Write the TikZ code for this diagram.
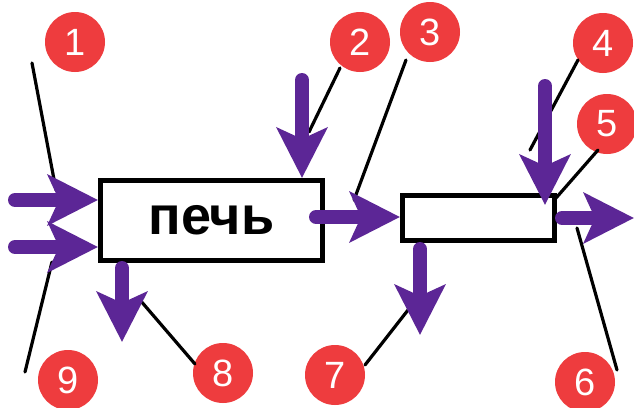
\documentclass[tikz,border=0pt]{standalone}
\usepackage{fontspec}
\setmainfont{Liberation Sans}
\usetikzlibrary{arrows.meta}
\definecolor{pur}{RGB}{92,38,150}
\definecolor{badgered}{RGB}{238,60,62}
\begin{document}
\begin{tikzpicture}[x=1pt,y=-1pt,
  badge/.style={circle, fill=badgered, minimum size=60pt, inner sep=0pt, text=white,
    font=\fontsize{38}{38}\selectfont},
  box/.style={draw=black, line width=5pt, fill=white, inner sep=0pt},
  flow/.style={draw=pur, line width=14pt, line cap=round,
    -{Stealth[length=50pt,width=50pt,inset=11pt]}},
  lead/.style={draw=black, line width=3.2pt, line cap=round}]
\useasboundingbox (0,0) rectangle (634,407);
\fill[white] (0,0) rectangle (634,407);

% boxes
\node[box, minimum width=222pt, minimum height=80pt,
  font=\bfseries\fontsize{54}{54}\selectfont] (furnace) at (211.5,220.5) {печь};
\node[box, minimum width=152pt, minimum height=45pt] (unit) at (478.5,218) {};

% badges
\node[badge] (c1) at (75,42) {1};
\node[badge] (c2) at (360,42) {2};
\node[badge] (c3) at (430,32) {3};
\node[badge] (c4) at (603,43) {4};
\node[badge] (c5) at (607,124) {5};
\node[badge] (c6) at (585,382) {6};
\node[badge] (c7) at (335,375) {7};
\node[badge] (c8) at (223,373) {8};
\node[badge] (c9) at (68,380) {9};

% leader line ends
\coordinate (l1a) at (32,63);   \coordinate (l1b) at (56,190);
\coordinate (l2a) at (340,68);  \coordinate (l2b) at (309,132);
\coordinate (l3a) at (406,60);  \coordinate (l3b) at (354,200);
\coordinate (l4a) at (578,60);  \coordinate (l4b) at (530,150);
\coordinate (l5a) at (598,150); \coordinate (l5b) at (556,198);
\coordinate (l6a) at (617,370); \coordinate (l6b) at (577,228);
\coordinate (l7a) at (365,365); \coordinate (l7b) at (408,310);
\coordinate (l8a) at (195,364); \coordinate (l8b) at (140,300);
\coordinate (l9a) at (25,372);  \coordinate (l9b) at (52,262);

\draw[lead] (l1a) -- (l1b);
\draw[lead] (l2a) -- (l2b);
\draw[lead] (l3a) -- (l3b);
\draw[lead] (l4a) -- (l4b);
\draw[lead] (l5a) -- (l5b);
\draw[lead] (l6a) -- (l6b);
\draw[lead] (l7a) -- (l7b);
\draw[lead] (l8a) -- (l8b);
\draw[lead] (l9a) -- (l9b);

% flow arrow ends
\coordinate (s1) at (15,200);
\coordinate (s9) at (15,247);
\coordinate (s2) at (302,80);
\coordinate (s3) at (316,217);
\coordinate (s4) at (545,86);
\coordinate (t4) at (545,205);
\coordinate (s5) at (562,218);
\coordinate (t5) at (634,218);
\coordinate (s8) at (122,268);
\coordinate (t8) at (122,342);
\coordinate (s7) at (420,249);
\coordinate (t7) at (420,335);

\draw[flow] (s1) -- (s1 -| furnace.west);
\draw[flow] (s9) -- (s9 -| furnace.west);
\draw[flow] (s2) -- (s2 |- furnace.north);
\draw[flow] (s3) -- (s3 -| unit.west);
\draw[flow] (s4) -- (t4);
\draw[flow] (s5) -- (t5);
\draw[flow] (s8) -- (t8);
\draw[flow] (s7) -- (t7);
\end{tikzpicture}
\end{document}
